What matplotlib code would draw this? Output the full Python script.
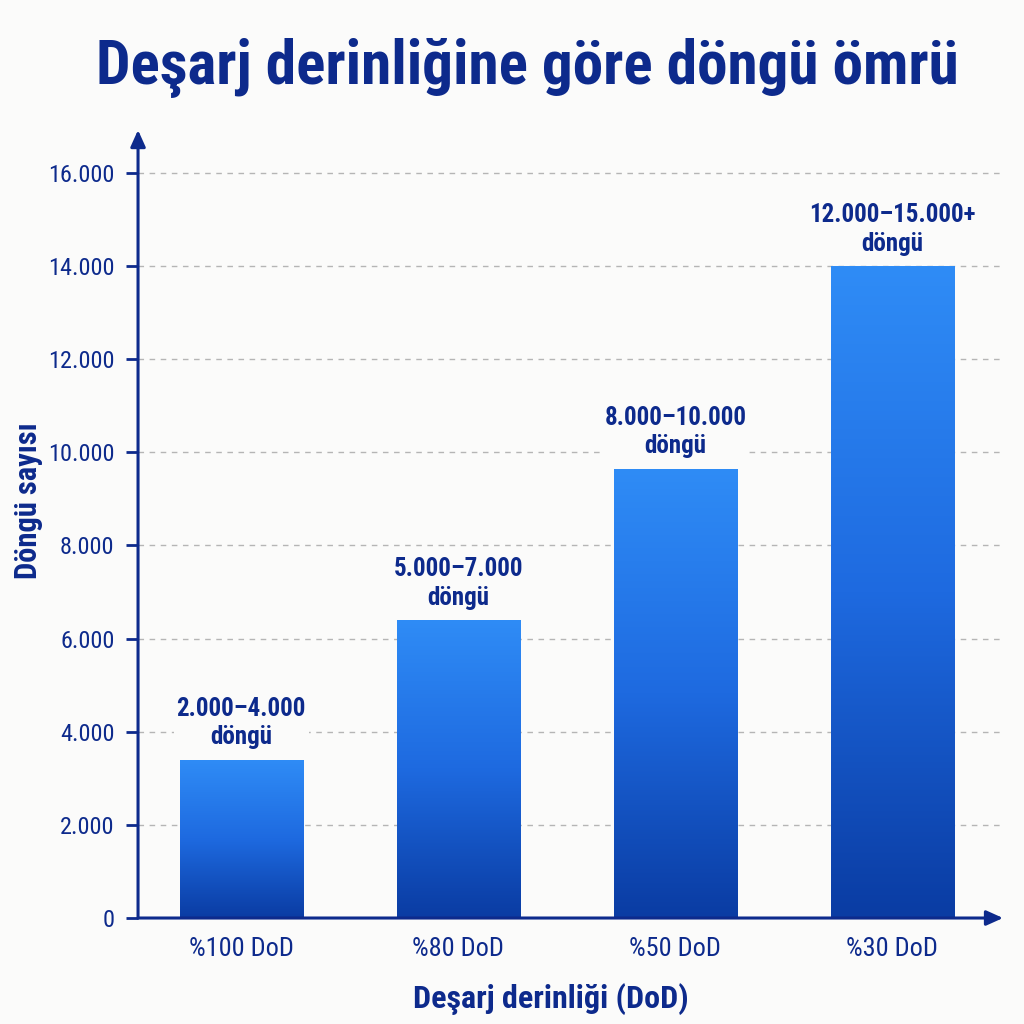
import matplotlib
matplotlib.use("Agg")
import matplotlib.pyplot as plt
import numpy as np
from matplotlib.colors import LinearSegmentedColormap

categories = ["%100 DoD", "%80 DoD", "%50 DoD", "%30 DoD"]
values = [3400, 6400, 9650, 14000]
bar_labels = ["2.000–4.000\ndöngü", "5.000–7.000\ndöngü", "8.000–10.000\ndöngü", "12.000–15.000+\ndöngü"]
yticks = [0, 2000, 4000, 6000, 8000, 10000, 12000, 14000, 16000]
ytick_labels = ["0", "2.000", "4.000", "6.000", "8.000", "10.000", "12.000", "14.000", "16.000"]
title = "Deşarj derinliğine göre döngü ömrü"
xlabel = "Deşarj derinliği (DoD)"
ylabel = "Döngü sayısı"

FONT = ["Liberation Sans Narrow", "Roboto Condensed", "Roboto", "DejaVu Sans"]
plt.rcParams["font.family"] = FONT
NAVY = "#0d2a8c"
BG = "#fbfbfa"

fig = plt.figure(figsize=(10.24, 10.24), dpi=100, facecolor=BG)
ax = fig.add_axes([0.1348, 0.1035, 0.8447, 0.7695], facecolor=BG)

x = np.arange(len(categories))
width = 0.567
bars = ax.bar(x, values, width=width, color="none", edgecolor="none", zorder=3)

cmap = LinearSegmentedColormap.from_list("g", ["#0a3ca3", "#1e6ae0", "#2f8cf6"])
grad = np.linspace(0, 1, 256).reshape(-1, 1)
for b in bars:
    x0, y0 = b.get_x(), b.get_y()
    w, h = b.get_width(), b.get_height()
    im = ax.imshow(grad, cmap=cmap, extent=[x0, x0 + w, y0, y0 + h], origin="lower",
                   aspect="auto", zorder=3)
    im.set_clip_path(b)

for xi, v, lab in zip(x, values, bar_labels):
    ax.text(xi, v + 220, lab, ha="center", va="bottom", fontsize=18, fontweight="bold",
            color=NAVY, linespacing=1.25, zorder=5,
            bbox=dict(facecolor=BG, edgecolor="none", pad=2))

ax.set_xlim(-0.475, 3.51)
ax.set_ylim(0, 16920)
ax.set_yticks(yticks)
ax.set_yticklabels(ytick_labels, fontsize=17.5, color=NAVY)
ax.set_xticks(x)
ax.set_xticklabels(categories, fontsize=19, color=NAVY)
ax.tick_params(axis="y", length=9, width=2, color=NAVY, pad=8)
ax.tick_params(axis="x", length=0, pad=14)

ax.grid(axis="y", linestyle=(0, (4, 4)), color="#b5b5b5", linewidth=1, zorder=1)
ax.set_axisbelow(True)
for s in ax.spines.values():
    s.set_visible(False)

ax.annotate("", xy=(0, 1.0), xytext=(0, 0), xycoords="axes fraction",
            arrowprops=dict(arrowstyle="-|>,head_length=1.0,head_width=0.45", color=NAVY, lw=2.2,
                            shrinkA=0, shrinkB=0), zorder=6)
ax.annotate("", xy=(1.0, 0), xytext=(0, 0), xycoords="axes fraction",
            arrowprops=dict(arrowstyle="-|>,head_length=1.0,head_width=0.45", color=NAVY, lw=2.2,
                            shrinkA=0, shrinkB=0), zorder=6)

ax.set_xlabel(xlabel, fontsize=23, fontweight="bold", color=NAVY)
ax.xaxis.set_label_coords(0.477, -0.083)
ax.set_ylabel(ylabel, fontsize=22, fontweight="bold", color=NAVY)
ax.yaxis.set_label_coords(-0.11, 0.53)

fig.text(0.515, 0.934, title, ha="center", va="center", fontsize=44, fontweight="bold", color=NAVY)

fig.savefig("out.png", dpi=100, facecolor=BG)
